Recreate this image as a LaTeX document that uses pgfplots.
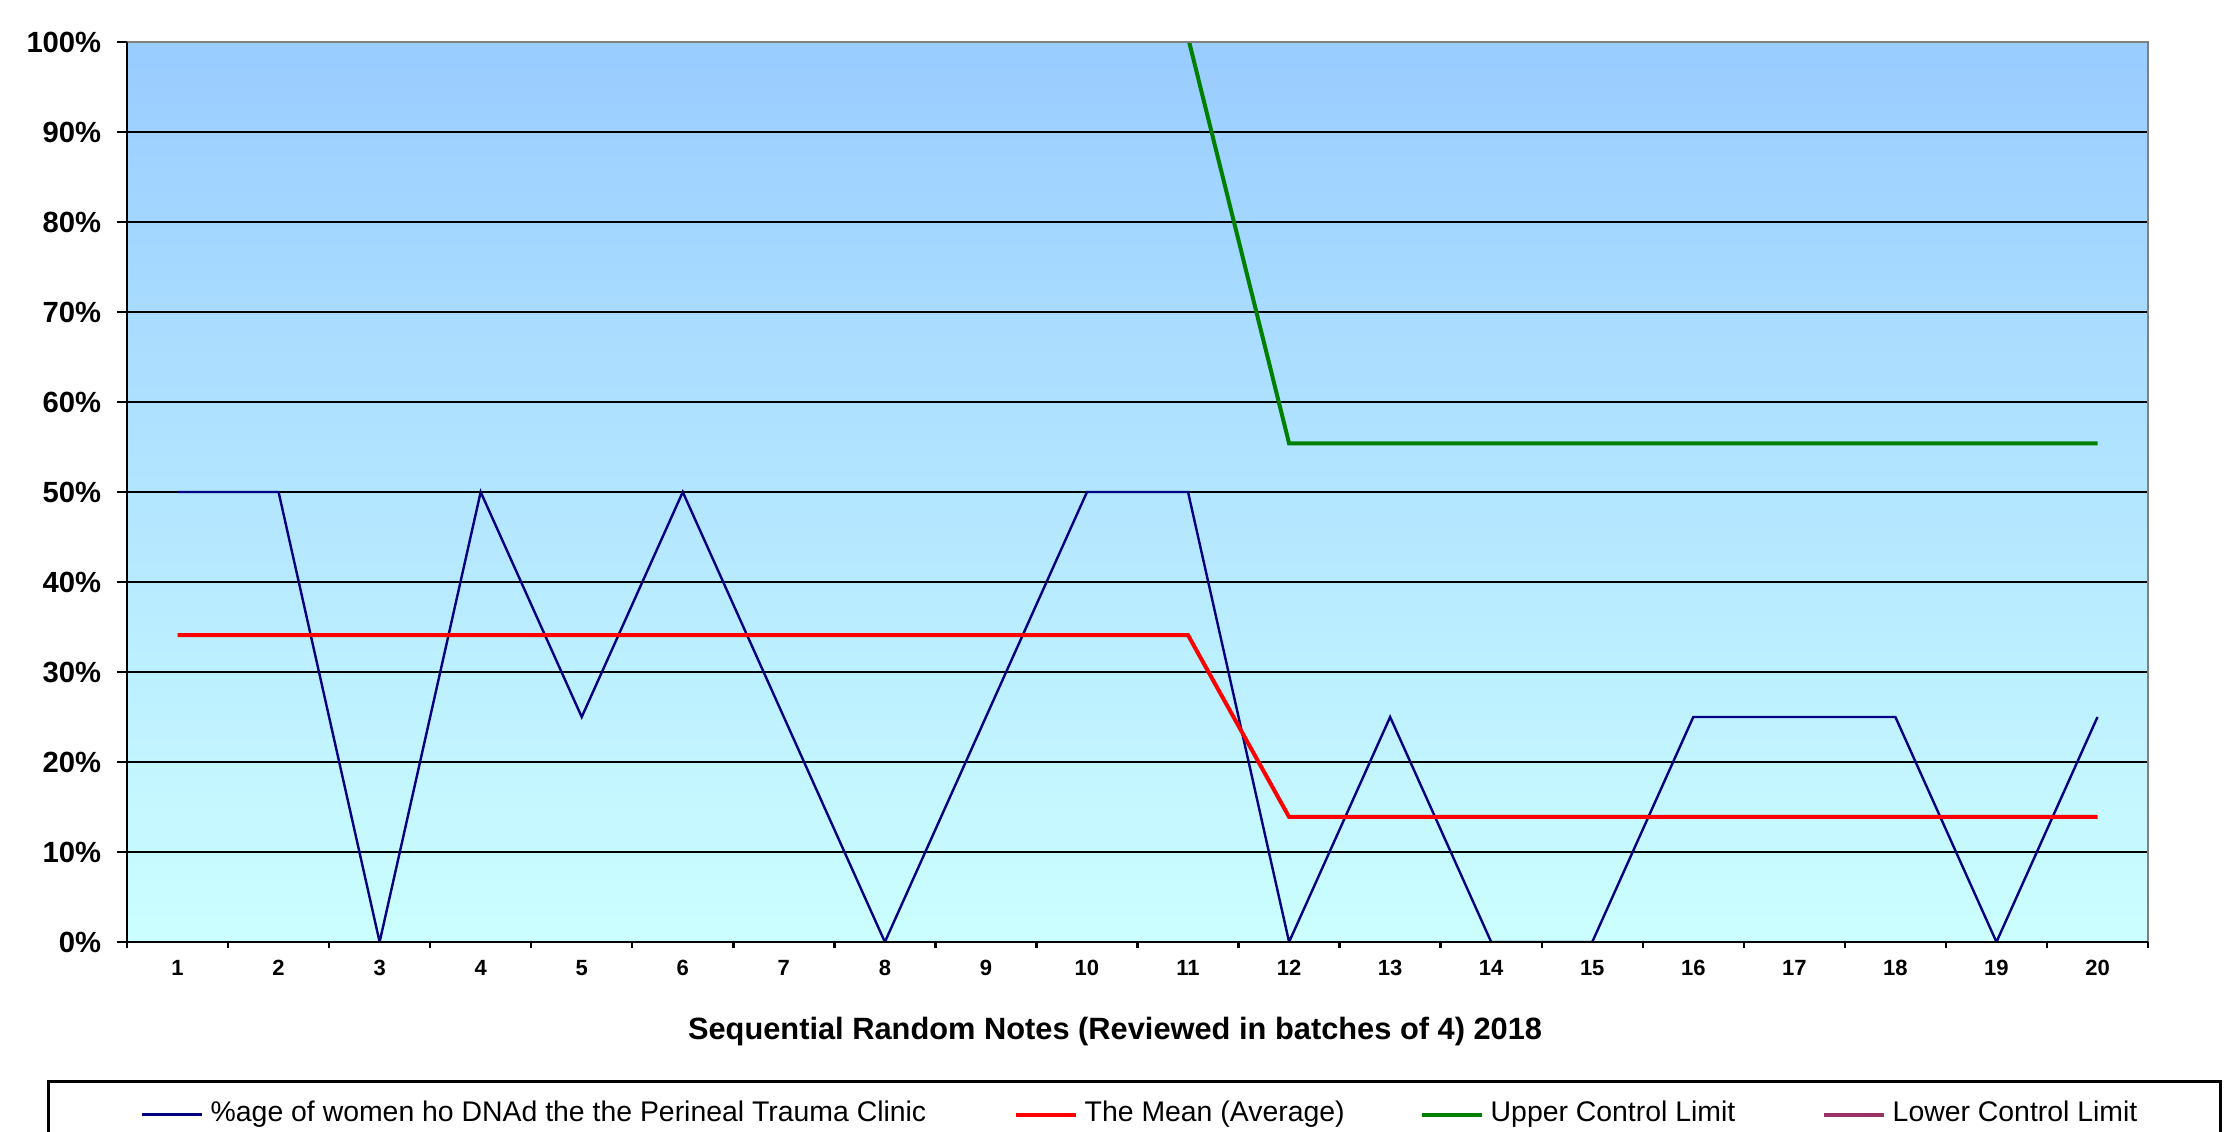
\documentclass[border=0pt]{standalone}
\usepackage{pgfplots}
\pgfplotsset{compat=1.18}
\usepackage{fontspec}
\setmainfont{Liberation Sans}
\definecolor{bgtop}{HTML}{99CCFF}
\definecolor{bgbot}{HTML}{CCFFFF}
\definecolor{dnablue}{HTML}{000080}
\definecolor{meanred}{HTML}{FF0000}
\definecolor{uclgreen}{HTML}{008000}
\definecolor{lclpurple}{HTML}{993366}
\definecolor{bordergray}{HTML}{808080}
\begin{document}
\begin{tikzpicture}
\begin{axis}[
  scale only axis, width=505.25pt, height=225pt,
  xmin=0.5, xmax=20.5, ymin=0, ymax=100,
  clip mode=individual,
  axis line style={draw=none},
  axis background/.style={top color=bgtop, bottom color=bgbot},
  /pgf/number format/assume math mode=true,
  ytick={0,10,...,100},
  yticklabel={\pgfmathprintnumber{\tick}\%},
  ymajorgrids, grid style={black, line width=0.6pt},
  xtick={1,...,20},
  minor xtick={0.5,1.5,...,20.5},
  tick pos=left,
  tick align=outside,
  major tick length=2.5pt,
  minor tick length=1.6pt,
  major x tick style={draw=none},
  minor x tick style={black, line width=0.6pt},
  y tick style={black, line width=0.6pt},
  y tick label style={font=\bfseries\fontsize{7.3}{8}\selectfont, anchor=east, inner sep=0pt, xshift=-3.75pt},
  x tick label style={font=\bfseries\fontsize{5.5}{6}\selectfont, anchor=center, inner sep=0pt, yshift=-3.9pt},
  legend image code/.code={\draw[#1] (0pt,0pt) -- (15pt,0pt);},
  legend columns=4,
  legend cell align=left,
  legend style={at={(-0.03958,-0.15333)}, anchor=north west, draw=black, line width=0.65pt,
    inner xsep=23.25pt, inner ysep=5pt,
    nodes={inner sep=0pt, font=\fontsize{7.1}{8}\selectfont},
    /tikz/every even column/.append style={column sep=0pt},
    /tikz/every odd column/.append style={column sep=0pt}},
]
\addplot[dnablue, line width=0.6pt] coordinates {
  (1,50) (2,50) (3,0) (4,50) (5,25) (6,50) (7,25) (8,0) (9,25) (10,50)
  (11,50) (12,0) (13,25) (14,0) (15,0) (16,25) (17,25) (18,25) (19,0) (20,25)};
\addlegendentry{\makebox[202.5pt][l]{\hspace{1.75pt}\%age of women ho DNAd the the Perineal Trauma Clinic}}
\addplot[meanred, line width=1pt] coordinates {
  (1,34.09) (2,34.09) (3,34.09) (4,34.09) (5,34.09) (6,34.09) (7,34.09) (8,34.09) (9,34.09) (10,34.09)
  (11,34.09) (12,13.89) (13,13.89) (14,13.89) (15,13.89) (16,13.89) (17,13.89) (18,13.89) (19,13.89) (20,13.89)};
\addlegendentry{\makebox[85.5pt][l]{\hspace{1.75pt}The Mean (Average)}}
\addplot[uclgreen, line width=1pt] coordinates {
  (1,100.5) (2,100.5) (3,100.5) (4,100.5) (5,100.5) (6,100.5) (7,100.5) (8,100.5) (9,100.5) (10,100.5)
  (11,100.5) (12,55.4) (13,55.4) (14,55.4) (15,55.4) (16,55.4) (17,55.4) (18,55.4) (19,55.4) (20,55.4)};
\addlegendentry{\makebox[84.5pt][l]{\hspace{1.75pt}Upper Control Limit}}
\addplot[lclpurple, line width=1pt] coordinates {
  (1,-32) (2,-32) (3,-32) (4,-32) (5,-32) (6,-32) (7,-32) (8,-32) (9,-32) (10,-32)
  (11,-32) (12,-27.6) (13,-27.6) (14,-27.6) (15,-27.6) (16,-27.6) (17,-27.6) (18,-27.6) (19,-27.6) (20,-27.6)};
\addlegendentry{\makebox[60.5pt][l]{\hspace{1.75pt}Lower Control Limit}}
\draw[bordergray, line width=0.7pt] (rel axis cs:0,1) -- (rel axis cs:1,1) -- (rel axis cs:1,0);
\draw[black, line width=0.7pt] (rel axis cs:0,1) -- (rel axis cs:0,0) -- (rel axis cs:1,0);
\node[font=\bfseries\fontsize{7.7}{9}\selectfont] at (rel axis cs:0.4889,-0.1) {Sequential Random Notes (Reviewed in batches of 4) 2018};
\coordinate (bbsw) at (rel axis cs:-0.062840,-0.211111);
\coordinate (bbne) at (rel axis cs:1.041564,1.046667);
\end{axis}
\pgfresetboundingbox
\useasboundingbox (bbsw) rectangle (bbne);
\end{tikzpicture}
\end{document}
